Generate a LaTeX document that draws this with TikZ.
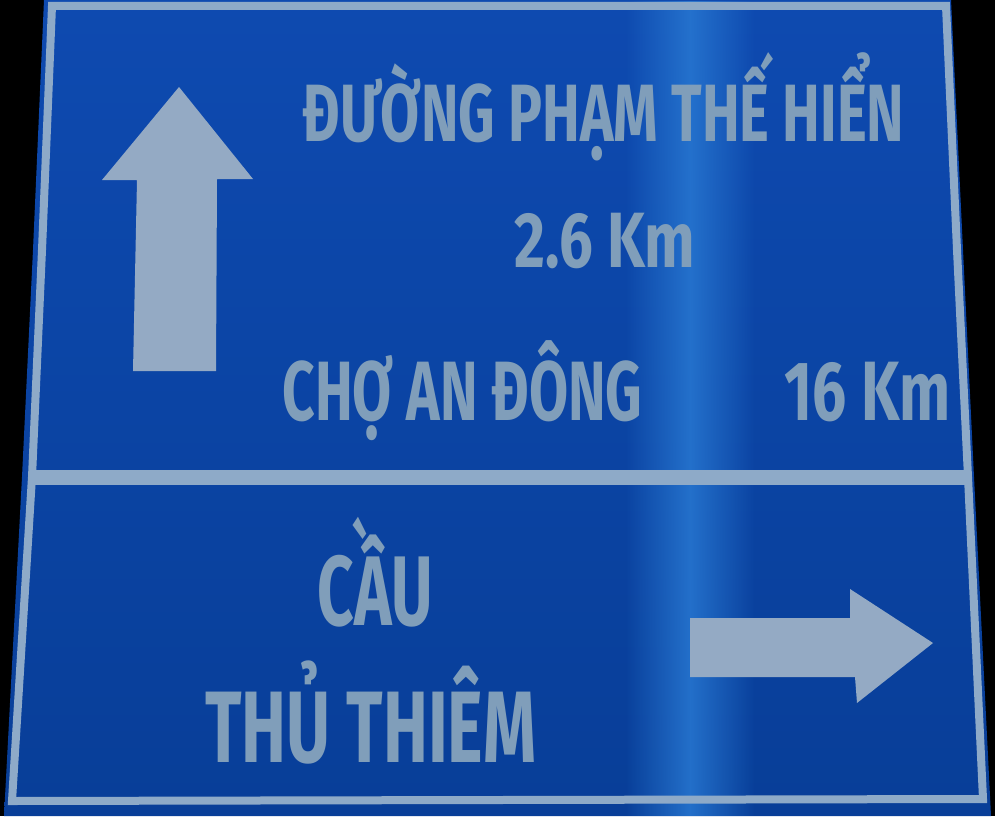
\documentclass[tikz,border=0pt]{standalone}
\usepackage{fontspec}
\usepackage{graphicx}
\usetikzlibrary{fadings}
\newfontfamily\signfont{Fira Sans}
\definecolor{bluetop}{RGB}{14,74,176}
\definecolor{bluebot}{RGB}{8,62,152}
\definecolor{streak}{RGB}{40,120,210}
\definecolor{signtextcol}{RGB}{128,158,186}
\definecolor{bordercol}{RGB}{142,170,200}
\definecolor{arrowcol}{RGB}{148,170,196}
\newcommand\squeeze[2]{\resizebox{#1}{\height}{#2}}
\tikzfading[name=midband, left color=transparent!100, right color=transparent!100, middle color=transparent!15]
\tikzset{
  signtxt/.style={anchor=base west, inner sep=0pt, outer sep=0pt, text=signtextcol},
  borderline/.style={draw=bordercol, line join=miter},
  arrowshape/.style={fill=arrowcol}
}
\begin{document}
\begin{tikzpicture}[x=1pt,y=-1pt]
\useasboundingbox (0,0) rectangle (995,816);
\fill[black] (0,0) rectangle (995,816);
% sign plate
\path[shade, top color=bluetop, bottom color=bluebot]
  (44,0) -- (951,0) -- (963,250) -- (974,477) -- (991,816) -- (4,816) -- (22,477) -- (33,250) -- cycle;
% light streak
\fill[streak, path fading=midband] (625,0) rectangle (755,816);
% white border and divider
\draw[borderline, line width=8pt]
  (52,6) -- (946,6) -- (957,250) -- (968,477) -- (983,799) -- (12,801) -- (32,477) -- (42,250) -- cycle;
\draw[borderline, line width=15pt] (32,477.5) -- (968,477.5);
% arrows
\fill[arrowshape] (179,87) -- (253,179) -- (217,179) -- (216,371) -- (133,371) -- (137,180) -- (102,180) -- cycle;
\fill[arrowshape] (690,618) -- (850,618) -- (850,589) -- (933,643) -- (857,703) -- (855,677) -- (690,677) -- cycle;
% texts
\node[signtxt, font=\signfont\bfseries\fontsize{81.3}{90}\selectfont] (road) at (302.5,141)
  {\squeeze{602pt}{ĐƯỜNG PHẠM THẾ HIỂN}};
\node[signtxt, font=\signfont\bfseries\fontsize{78.4}{90}\selectfont] (dist1) at (514.5,267)
  {\squeeze{181pt}{2.6 Km}};
\node[signtxt, font=\signfont\bfseries\fontsize{84.2}{90}\selectfont] (market) at (282.5,420)
  {\squeeze{360pt}{CHỢ AN ĐÔNG}};
\node[signtxt, font=\signfont\bfseries\fontsize{84.2}{90}\selectfont] (dist2) at (784.5,420)
  {\squeeze{166pt}{16 Km}};
\node[signtxt, font=\signfont\bfseries\fontsize{99}{110}\selectfont] (bridge1) at (317.5,625)
  {\squeeze{115pt}{CẦU}};
\node[signtxt, font=\signfont\bfseries\fontsize{101.6}{110}\selectfont] (bridge2) at (205.5,762)
  {\squeeze{331pt}{THỦ THIÊM}};
\end{tikzpicture}
\end{document}
